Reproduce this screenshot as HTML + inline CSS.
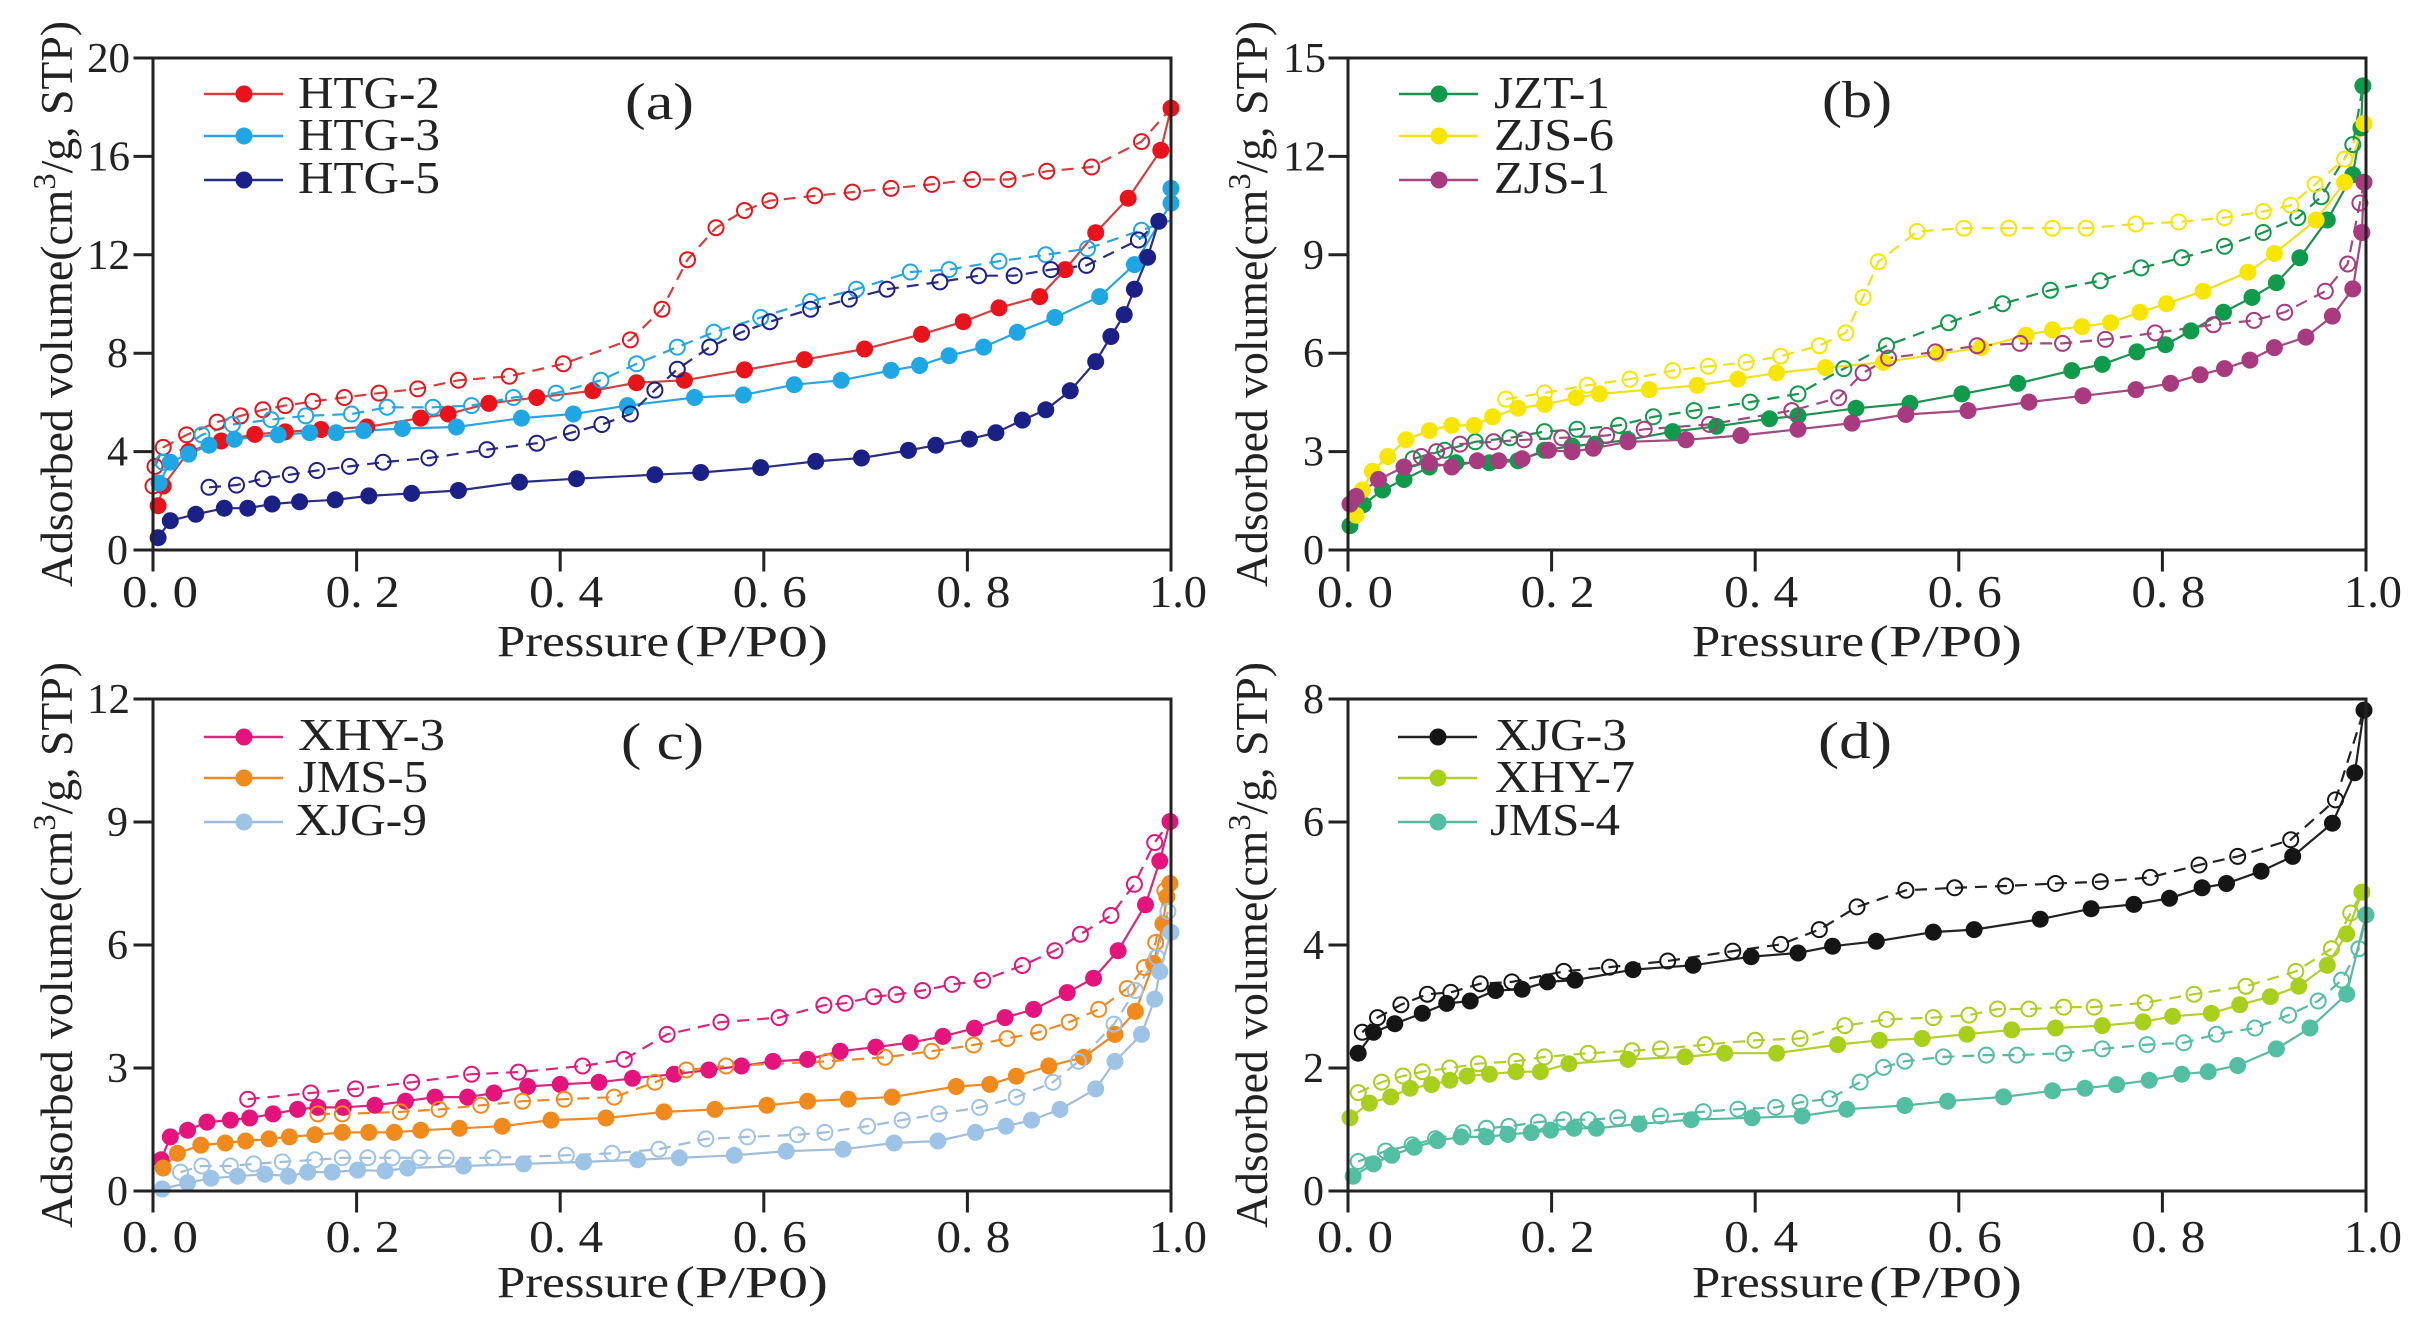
<!DOCTYPE html>
<html><head><meta charset="utf-8">
<style>
html,body{margin:0;padding:0;background:#fff;}
svg{display:block;}
text{font-family:"Liberation Serif","Times New Roman",Times,serif;fill:#222;}
</style></head>
<body>
<svg id="s" xmlns="http://www.w3.org/2000/svg" width="2415" height="1317" viewBox="0 0 2415 1317">
<rect x="0" y="0" width="2415" height="1317" fill="#fff"/>
<g id="data"></g>
<g stroke="#222" stroke-width="3" fill="none" stroke-linecap="square">
  <rect x="153" y="58" width="1018" height="492"/>
  <path d="M153 550V570 M356.6 550V570 M560.2 550V570 M763.8 550V570 M967.4 550V570 M1171 550V570"/>
  <path d="M135 550H153 M135 451.6H153 M135 353.2H153 M135 254.8H153 M135 156.4H153 M135 58H153"/>
  <rect x="1348" y="58" width="1018" height="492"/>
  <path d="M1348 550V570 M1551.6 550V570 M1755.2 550V570 M1958.8 550V570 M2162.4 550V570 M2366 550V570"/>
  <path d="M1330 550H1348 M1330 451.6H1348 M1330 353.2H1348 M1330 254.8H1348 M1330 156.4H1348 M1330 58H1348"/>
  <rect x="153" y="699" width="1018" height="492"/>
  <path d="M153 1191V1211 M356.6 1191V1211 M560.2 1191V1211 M763.8 1191V1211 M967.4 1191V1211 M1171 1191V1211"/>
  <path d="M135 1191H153 M135 1068H153 M135 945H153 M135 822H153 M135 699H153"/>
  <rect x="1348" y="699" width="1018" height="492"/>
  <path d="M1348 1191V1211 M1551.6 1191V1211 M1755.2 1191V1211 M1958.8 1191V1211 M2162.4 1191V1211 M2366 1191V1211"/>
  <path d="M1330 1191H1348 M1330 1068H1348 M1330 945H1348 M1330 822H1348 M1330 699H1348"/>
</g>

<g font-size="42" text-anchor="end">
  <text x="128" y="564">0</text><text x="128" y="465.6">4</text><text x="128" y="367.2">8</text>
  <text x="130" y="268.8" textLength="43" lengthAdjust="spacingAndGlyphs">12</text>
  <text x="130" y="170.4" textLength="43" lengthAdjust="spacingAndGlyphs">16</text>
  <text x="130" y="72" textLength="43" lengthAdjust="spacingAndGlyphs">20</text>

  <text x="1324" y="564">0</text><text x="1324" y="465.6">3</text><text x="1324" y="367.2">6</text>
  <text x="1324" y="268.8">9</text>
  <text x="1326" y="170.4" textLength="43" lengthAdjust="spacingAndGlyphs">12</text>
  <text x="1326" y="72" textLength="43" lengthAdjust="spacingAndGlyphs">15</text>

  <text x="128" y="1205">0</text><text x="128" y="1082">3</text><text x="128" y="959">6</text>
  <text x="128" y="836">9</text>
  <text x="130" y="713" textLength="43" lengthAdjust="spacingAndGlyphs">12</text>

  <text x="1324" y="1205">0</text><text x="1324" y="1082">2</text><text x="1324" y="959">4</text>
  <text x="1324" y="836">6</text><text x="1324" y="713">8</text>
</g>

<g font-size="46" text-anchor="middle">
  <text x="160" y="607" textLength="76" lengthAdjust="spacingAndGlyphs">0. 0</text>
  <text x="362.6" y="607" textLength="74" lengthAdjust="spacingAndGlyphs">0. 2</text>
  <text x="566.2" y="607" textLength="74" lengthAdjust="spacingAndGlyphs">0. 4</text>
  <text x="769.8" y="607" textLength="74" lengthAdjust="spacingAndGlyphs">0. 6</text>
  <text x="973.4" y="607" textLength="74" lengthAdjust="spacingAndGlyphs">0. 8</text>
  <text x="1178" y="607" textLength="58" lengthAdjust="spacingAndGlyphs">1.0</text>

  <text x="1355" y="607" textLength="76" lengthAdjust="spacingAndGlyphs">0. 0</text>
  <text x="1557.6" y="607" textLength="74" lengthAdjust="spacingAndGlyphs">0. 2</text>
  <text x="1761.2" y="607" textLength="74" lengthAdjust="spacingAndGlyphs">0. 4</text>
  <text x="1964.8" y="607" textLength="74" lengthAdjust="spacingAndGlyphs">0. 6</text>
  <text x="2168.4" y="607" textLength="74" lengthAdjust="spacingAndGlyphs">0. 8</text>
  <text x="2373" y="607" textLength="58" lengthAdjust="spacingAndGlyphs">1.0</text>

  <text x="160" y="1252" textLength="76" lengthAdjust="spacingAndGlyphs">0. 0</text>
  <text x="362.6" y="1252" textLength="74" lengthAdjust="spacingAndGlyphs">0. 2</text>
  <text x="566.2" y="1252" textLength="74" lengthAdjust="spacingAndGlyphs">0. 4</text>
  <text x="769.8" y="1252" textLength="74" lengthAdjust="spacingAndGlyphs">0. 6</text>
  <text x="973.4" y="1252" textLength="74" lengthAdjust="spacingAndGlyphs">0. 8</text>
  <text x="1178" y="1252" textLength="58" lengthAdjust="spacingAndGlyphs">1.0</text>

  <text x="1355" y="1252" textLength="76" lengthAdjust="spacingAndGlyphs">0. 0</text>
  <text x="1557.6" y="1252" textLength="74" lengthAdjust="spacingAndGlyphs">0. 2</text>
  <text x="1761.2" y="1252" textLength="74" lengthAdjust="spacingAndGlyphs">0. 4</text>
  <text x="1964.8" y="1252" textLength="74" lengthAdjust="spacingAndGlyphs">0. 6</text>
  <text x="2168.4" y="1252" textLength="74" lengthAdjust="spacingAndGlyphs">0. 8</text>
  <text x="2373" y="1252" textLength="58" lengthAdjust="spacingAndGlyphs">1.0</text>
</g>

<g font-size="44">
  <text x="497" y="656" textLength="172" lengthAdjust="spacingAndGlyphs">Pressure</text>
  <text x="675" y="656" textLength="153" lengthAdjust="spacingAndGlyphs">(P/P0)</text>
  <text x="1692" y="656" textLength="172" lengthAdjust="spacingAndGlyphs">Pressure</text>
  <text x="1869" y="656" textLength="153" lengthAdjust="spacingAndGlyphs">(P/P0)</text>
  <text x="497" y="1297" textLength="172" lengthAdjust="spacingAndGlyphs">Pressure</text>
  <text x="675" y="1297" textLength="153" lengthAdjust="spacingAndGlyphs">(P/P0)</text>
  <text x="1692" y="1297" textLength="172" lengthAdjust="spacingAndGlyphs">Pressure</text>
  <text x="1869" y="1297" textLength="153" lengthAdjust="spacingAndGlyphs">(P/P0)</text>
</g>

<g font-size="45" text-anchor="middle">
  <text transform="translate(72,304) rotate(-90)" textLength="566" lengthAdjust="spacingAndGlyphs">Adsorbed volume(cm<tspan font-size="32" dy="-17">3</tspan><tspan dy="17">/g, STP)</tspan></text>
  <text transform="translate(1267,304) rotate(-90)" textLength="566" lengthAdjust="spacingAndGlyphs">Adsorbed volume(cm<tspan font-size="32" dy="-17">3</tspan><tspan dy="17">/g, STP)</tspan></text>
  <text transform="translate(72,945) rotate(-90)" textLength="566" lengthAdjust="spacingAndGlyphs">Adsorbed volume(cm<tspan font-size="32" dy="-17">3</tspan><tspan dy="17">/g, STP)</tspan></text>
  <text transform="translate(1267,945) rotate(-90)" textLength="566" lengthAdjust="spacingAndGlyphs">Adsorbed volume(cm<tspan font-size="32" dy="-17">3</tspan><tspan dy="17">/g, STP)</tspan></text>
</g>

<g font-size="52">
  <text x="625" y="119" textLength="69" lengthAdjust="spacingAndGlyphs">(a)</text>
  <text x="1822" y="117" textLength="70" lengthAdjust="spacingAndGlyphs">(b)</text>
  <text x="621" y="759" textLength="83" lengthAdjust="spacingAndGlyphs">( c)</text>
  <text x="1818" y="758" textLength="74" lengthAdjust="spacingAndGlyphs">(d)</text>
</g>

<g stroke-width="2.5">
  <line x1="204" y1="94" x2="283" y2="94" stroke="#d2403f"/><circle cx="244" cy="94" r="8.5" fill="#e8131b"/>
  <line x1="204" y1="136" x2="283" y2="136" stroke="#2aa5e0"/><circle cx="244" cy="136" r="8.5" fill="#1ea7e4"/>
  <line x1="204" y1="180" x2="283" y2="180" stroke="#2a2d80"/><circle cx="244" cy="180" r="8.5" fill="#1b2086"/>

  <line x1="1399" y1="94" x2="1478" y2="94" stroke="#1e9050"/><circle cx="1439" cy="94" r="8.5" fill="#109a4c"/>
  <line x1="1399" y1="136" x2="1478" y2="136" stroke="#f0e020"/><circle cx="1439" cy="136" r="8.5" fill="#f7e600"/>
  <line x1="1399" y1="180" x2="1478" y2="180" stroke="#a04a80"/><circle cx="1439" cy="180" r="8.5" fill="#a83a80"/>

  <line x1="204" y1="737" x2="283" y2="737" stroke="#d8287a"/><circle cx="244" cy="737" r="8.5" fill="#e4147c"/>
  <line x1="204" y1="778" x2="283" y2="778" stroke="#ec8a28"/><circle cx="244" cy="778" r="8.5" fill="#f08a1c"/>
  <line x1="204" y1="822" x2="283" y2="822" stroke="#a0bcd8"/><circle cx="244" cy="822" r="8.5" fill="#9dc3e6"/>

  <line x1="1398" y1="737" x2="1477" y2="737" stroke="#222"/><circle cx="1438" cy="737" r="8.5" fill="#151515"/>
  <line x1="1398" y1="778" x2="1477" y2="778" stroke="#b0d030"/><circle cx="1438" cy="778" r="8.5" fill="#a9cf1d"/>
  <line x1="1398" y1="822" x2="1477" y2="822" stroke="#5ab8a0"/><circle cx="1438" cy="822" r="8.5" fill="#52bfa3"/>
</g>
<g font-size="46">
  <text x="298" y="108" textLength="142" lengthAdjust="spacingAndGlyphs">HTG-2</text>
  <text x="298" y="150" textLength="142" lengthAdjust="spacingAndGlyphs">HTG-3</text>
  <text x="298" y="193" textLength="142" lengthAdjust="spacingAndGlyphs">HTG-5</text>

  <text x="1494" y="108" textLength="116" lengthAdjust="spacingAndGlyphs">JZT-1</text>
  <text x="1494" y="150" textLength="120" lengthAdjust="spacingAndGlyphs">ZJS-6</text>
  <text x="1494" y="193" textLength="116" lengthAdjust="spacingAndGlyphs">ZJS-1</text>

  <text x="298" y="750" textLength="147" lengthAdjust="spacingAndGlyphs">XHY-3</text>
  <text x="298" y="792" textLength="130" lengthAdjust="spacingAndGlyphs">JMS-5</text>
  <text x="295" y="835" textLength="132" lengthAdjust="spacingAndGlyphs">XJG-9</text>

  <text x="1495" y="750" textLength="132" lengthAdjust="spacingAndGlyphs">XJG-3</text>
  <text x="1495" y="792" textLength="140" lengthAdjust="spacingAndGlyphs">XHY-7</text>
  <text x="1490" y="835" textLength="130" lengthAdjust="spacingAndGlyphs">JMS-4</text>
</g>
</svg>

<script>
(function(){
var NS="http://www.w3.org/2000/svg";
var g=document.getElementById("data");
function el(n,a){var e=document.createElementNS(NS,n);for(var k in a)e.setAttribute(k,a[k]);g.appendChild(e);return e;}
var panels=[
{l:153,r:1171,t:58,b:550,ymax:20,s:[
 {c:"#e8131b",lc:"#d2403f",
  a:[[0.005,1.8],[0.01,2.6],[0.035,4.0],[0.067,4.43],[0.1,4.7],[0.13,4.8],[0.165,4.9],[0.21,5.0],[0.263,5.36],[0.29,5.53],[0.33,5.96],[0.377,6.2],[0.432,6.47],[0.475,6.8],[0.522,6.9],[0.581,7.32],[0.64,7.74],[0.699,8.17],[0.755,8.77],[0.796,9.28],[0.831,9.84],[0.871,10.3],[0.896,11.4],[0.926,12.9],[0.958,14.3],[0.99,16.25],[1.0,17.96]],
  d:[[0,2.6],[0.002,3.4],[0.01,4.17],[0.033,4.68],[0.063,5.2],[0.086,5.45],[0.108,5.7],[0.13,5.87],[0.157,6.04],[0.188,6.2],[0.222,6.38],[0.26,6.55],[0.3,6.9],[0.35,7.06],[0.403,7.57],[0.469,8.54],[0.5,9.79],[0.525,11.8],[0.553,13.1],[0.581,13.8],[0.606,14.2],[0.65,14.4],[0.687,14.55],[0.725,14.7],[0.765,14.86],[0.805,15.06],[0.84,15.06],[0.878,15.4],[0.922,15.57],[0.971,16.6],[1.0,17.96]]},
 {c:"#1ea7e4",lc:"#2aa5e0",
  a:[[0.006,2.72],[0.017,3.57],[0.035,3.9],[0.055,4.26],[0.08,4.5],[0.123,4.68],[0.154,4.77],[0.18,4.77],[0.207,4.85],[0.245,4.94],[0.298,5.0],[0.362,5.36],[0.413,5.53],[0.466,5.87],[0.532,6.2],[0.58,6.3],[0.63,6.72],[0.676,6.9],[0.725,7.3],[0.753,7.5],[0.782,7.9],[0.816,8.25],[0.849,8.85],[0.886,9.45],[0.93,10.3],[0.964,11.6],[1.0,14.1],[1.0,14.7]],
  d:[[0.01,3.57],[0.048,4.68],[0.078,5.1],[0.116,5.3],[0.15,5.45],[0.195,5.53],[0.23,5.8],[0.275,5.8],[0.313,5.87],[0.354,6.2],[0.396,6.38],[0.44,6.9],[0.475,7.57],[0.515,8.25],[0.551,8.85],[0.597,9.45],[0.646,10.1],[0.691,10.6],[0.744,11.3],[0.782,11.4],[0.831,11.74],[0.877,12.0],[0.918,12.25],[0.971,13.0],[1.0,13.4]]},
 {c:"#1b2086",lc:"#2a2d80",
  a:[[0.005,0.5],[0.017,1.19],[0.042,1.45],[0.07,1.7],[0.093,1.7],[0.117,1.87],[0.144,1.96],[0.179,2.04],[0.212,2.2],[0.254,2.3],[0.3,2.42],[0.36,2.76],[0.416,2.9],[0.493,3.06],[0.538,3.15],[0.597,3.35],[0.651,3.6],[0.696,3.74],[0.742,4.05],[0.769,4.26],[0.802,4.51],[0.828,4.77],[0.854,5.28],[0.877,5.7],[0.901,6.47],[0.926,7.66],[0.941,8.68],[0.954,9.57],[0.964,10.6],[0.977,11.9],[0.988,13.36]],
  d:[[0.055,2.55],[0.082,2.64],[0.108,2.9],[0.135,3.06],[0.161,3.23],[0.193,3.4],[0.226,3.57],[0.271,3.74],[0.328,4.08],[0.377,4.34],[0.411,4.77],[0.441,5.1],[0.469,5.53],[0.493,6.5],[0.515,7.35],[0.547,8.25],[0.578,8.85],[0.606,9.28],[0.646,9.79],[0.684,10.2],[0.721,10.6],[0.773,10.9],[0.811,11.15],[0.846,11.15],[0.882,11.4],[0.917,11.57],[0.968,12.6],[0.988,13.36]]}
]},
{l:1348,r:2366,t:58,b:550,ymax:15,s:[
 {c:"#109a4c",lc:"#1e9050",
  a:[[0.002,0.74],[0.015,1.38],[0.034,1.83],[0.055,2.15],[0.08,2.53],[0.106,2.66],[0.139,2.66],[0.167,2.72],[0.193,3.04],[0.22,3.17],[0.243,3.23],[0.275,3.36],[0.319,3.61],[0.362,3.77],[0.414,4.0],[0.442,4.09],[0.499,4.32],[0.552,4.47],[0.603,4.76],[0.658,5.08],[0.711,5.47],[0.741,5.66],[0.775,6.04],[0.803,6.26],[0.828,6.68],[0.86,7.25],[0.888,7.7],[0.912,8.15],[0.935,8.91],[0.962,10.06],[0.987,11.44],[0.995,12.87],[0.997,14.15]],
  d:[[0.064,2.78],[0.095,3.04],[0.125,3.3],[0.159,3.42],[0.193,3.61],[0.225,3.68],[0.266,3.8],[0.3,4.06],[0.34,4.25],[0.395,4.51],[0.442,4.76],[0.487,5.53],[0.529,6.23],[0.59,6.93],[0.643,7.51],[0.69,7.92],[0.739,8.21],[0.779,8.6],[0.819,8.91],[0.861,9.26],[0.899,9.68],[0.933,10.13],[0.956,10.77],[0.987,12.36],[0.997,14.15]]},
 {c:"#f7e600",lc:"#f0e020",
  a:[[0.008,1.06],[0.014,1.83],[0.024,2.4],[0.039,2.85],[0.057,3.36],[0.08,3.64],[0.102,3.8],[0.124,3.8],[0.142,4.06],[0.167,4.32],[0.193,4.44],[0.224,4.64],[0.247,4.76],[0.296,4.89],[0.343,5.02],[0.383,5.21],[0.421,5.4],[0.469,5.56],[0.526,5.72],[0.58,5.98],[0.622,6.17],[0.666,6.55],[0.692,6.71],[0.721,6.81],[0.749,6.93],[0.778,7.25],[0.804,7.51],[0.84,7.89],[0.884,8.47],[0.91,9.04],[0.951,10.06],[0.979,11.21],[0.998,13.0]],
  d:[[0.155,4.6],[0.193,4.79],[0.235,5.02],[0.277,5.21],[0.319,5.47],[0.354,5.6],[0.391,5.72],[0.425,5.91],[0.463,6.23],[0.489,6.62],[0.506,7.7],[0.521,8.79],[0.559,9.71],[0.605,9.81],[0.649,9.81],[0.692,9.81],[0.725,9.81],[0.774,9.94],[0.816,10.0],[0.861,10.13],[0.899,10.32],[0.926,10.51],[0.95,11.15],[0.979,11.92],[0.998,13.0]]},
 {c:"#a83a80",lc:"#a04a80",
  a:[[0.002,1.4],[0.008,1.63],[0.03,2.15],[0.055,2.53],[0.08,2.66],[0.102,2.53],[0.127,2.72],[0.148,2.72],[0.171,2.78],[0.197,3.04],[0.22,3.0],[0.241,3.1],[0.275,3.3],[0.332,3.36],[0.386,3.49],[0.442,3.68],[0.495,3.87],[0.548,4.13],[0.609,4.25],[0.669,4.51],[0.722,4.7],[0.774,4.89],[0.808,5.08],[0.837,5.34],[0.861,5.53],[0.886,5.79],[0.91,6.17],[0.941,6.49],[0.967,7.13],[0.987,7.96],[0.996,9.68],[0.998,11.21]],
  d:[[0.072,2.85],[0.087,3.0],[0.11,3.23],[0.143,3.3],[0.173,3.36],[0.21,3.42],[0.254,3.49],[0.291,3.68],[0.355,3.83],[0.436,4.25],[0.482,4.64],[0.506,5.4],[0.531,5.85],[0.577,6.04],[0.618,6.23],[0.66,6.3],[0.702,6.3],[0.744,6.42],[0.793,6.62],[0.85,6.87],[0.89,7.0],[0.92,7.25],[0.96,7.89],[0.982,8.72],[0.994,10.58],[0.998,11.21]]}
]},
{l:153,r:1171,t:699,b:1191,ymax:12,s:[
 {c:"#e4147c",lc:"#d8287a",
  a:[[0.008,0.76],[0.017,1.32],[0.034,1.48],[0.053,1.68],[0.076,1.73],[0.095,1.78],[0.118,1.88],[0.142,1.99],[0.162,2.04],[0.187,2.04],[0.218,2.09],[0.248,2.19],[0.277,2.29],[0.309,2.29],[0.335,2.39],[0.368,2.55],[0.4,2.6],[0.438,2.65],[0.471,2.75],[0.512,2.85],[0.546,2.95],[0.578,3.05],[0.609,3.16],[0.643,3.21],[0.675,3.41],[0.71,3.51],[0.744,3.62],[0.776,3.77],[0.807,3.97],[0.837,4.23],[0.865,4.43],[0.898,4.84],[0.924,5.19],[0.948,5.86],[0.975,6.98],[0.989,8.05],[0.999,9.01]],
  d:[[0.093,2.24],[0.155,2.39],[0.199,2.49],[0.254,2.65],[0.313,2.85],[0.359,2.9],[0.422,3.05],[0.463,3.21],[0.505,3.82],[0.558,4.12],[0.615,4.23],[0.659,4.53],[0.68,4.58],[0.708,4.74],[0.73,4.79],[0.756,4.89],[0.785,5.04],[0.815,5.14],[0.854,5.5],[0.886,5.86],[0.911,6.26],[0.941,6.72],[0.964,7.48],[0.984,8.5],[0.999,9.01]]},
 {c:"#f08a1c",lc:"#ec8a28",
  a:[[0.01,0.56],[0.024,0.92],[0.047,1.12],[0.071,1.17],[0.091,1.22],[0.114,1.27],[0.134,1.32],[0.159,1.37],[0.186,1.43],[0.212,1.43],[0.237,1.43],[0.263,1.48],[0.301,1.53],[0.343,1.58],[0.391,1.73],[0.445,1.78],[0.502,1.93],[0.552,1.99],[0.603,2.09],[0.643,2.19],[0.683,2.24],[0.726,2.29],[0.789,2.55],[0.822,2.6],[0.848,2.8],[0.88,3.05],[0.914,3.26],[0.945,3.82],[0.965,4.38],[0.983,5.55],[0.992,6.52],[0.996,7.18],[0.999,7.5]],
  d:[[0.162,1.88],[0.186,1.88],[0.243,1.93],[0.281,1.99],[0.322,2.09],[0.363,2.19],[0.404,2.24],[0.453,2.29],[0.493,2.65],[0.524,2.95],[0.563,3.05],[0.662,3.16],[0.719,3.26],[0.765,3.41],[0.806,3.56],[0.839,3.72],[0.87,3.87],[0.9,4.12],[0.929,4.43],[0.957,4.94],[0.974,5.45],[0.985,6.06],[0.994,7.33],[0.999,7.5]]},
 {c:"#9dc3e6",lc:"#a0bcd8",
  a:[[0.009,0.05],[0.034,0.2],[0.057,0.31],[0.083,0.36],[0.11,0.41],[0.133,0.36],[0.152,0.46],[0.176,0.46],[0.201,0.51],[0.228,0.49],[0.25,0.56],[0.305,0.61],[0.364,0.66],[0.423,0.71],[0.476,0.76],[0.517,0.81],[0.571,0.87],[0.622,0.97],[0.678,1.02],[0.728,1.17],[0.771,1.22],[0.808,1.43],[0.838,1.58],[0.863,1.73],[0.891,1.99],[0.926,2.49],[0.945,3.16],[0.971,3.82],[0.984,4.68],[0.989,5.35],[1.0,6.31]],
  d:[[0.027,0.46],[0.048,0.61],[0.076,0.61],[0.099,0.66],[0.127,0.71],[0.159,0.76],[0.186,0.81],[0.211,0.81],[0.235,0.81],[0.262,0.81],[0.288,0.81],[0.334,0.81],[0.406,0.87],[0.451,0.92],[0.497,1.02],[0.543,1.27],[0.584,1.32],[0.633,1.37],[0.66,1.43],[0.702,1.58],[0.736,1.73],[0.772,1.88],[0.812,2.04],[0.848,2.29],[0.884,2.65],[0.909,3.16],[0.944,4.07],[0.965,4.89],[0.986,5.7],[0.997,6.82],[1.0,7.5]]}
]},
{l:1348,r:2366,t:699,b:1191,ymax:8,s:[
 {c:"#151515",lc:"#222",
  a:[[0.01,2.24],[0.025,2.58],[0.046,2.72],[0.073,2.89],[0.097,3.05],[0.12,3.09],[0.145,3.26],[0.171,3.28],[0.196,3.4],[0.223,3.43],[0.28,3.6],[0.339,3.67],[0.396,3.81],[0.442,3.87],[0.476,3.98],[0.519,4.06],[0.575,4.21],[0.615,4.25],[0.68,4.42],[0.73,4.59],[0.772,4.66],[0.807,4.76],[0.839,4.93],[0.863,5.0],[0.897,5.2],[0.928,5.44],[0.967,5.98],[0.989,6.8],[0.998,7.82]],
  d:[[0.014,2.58],[0.029,2.82],[0.052,3.03],[0.078,3.2],[0.101,3.23],[0.13,3.37],[0.161,3.4],[0.212,3.57],[0.257,3.64],[0.314,3.74],[0.378,3.9],[0.425,4.01],[0.463,4.25],[0.5,4.62],[0.548,4.89],[0.596,4.93],[0.646,4.96],[0.695,5.0],[0.739,5.03],[0.788,5.1],[0.836,5.3],[0.874,5.44],[0.926,5.71],[0.97,6.36],[0.998,7.82]]},
 {c:"#a9cf1d",lc:"#b0d030",
  a:[[0.002,1.19],[0.021,1.43],[0.042,1.53],[0.061,1.67],[0.082,1.73],[0.1,1.8],[0.117,1.87],[0.139,1.9],[0.165,1.94],[0.189,1.94],[0.217,2.07],[0.275,2.14],[0.331,2.18],[0.37,2.24],[0.421,2.24],[0.481,2.38],[0.522,2.45],[0.564,2.48],[0.608,2.55],[0.652,2.62],[0.695,2.65],[0.741,2.69],[0.781,2.75],[0.81,2.84],[0.848,2.89],[0.876,3.03],[0.906,3.16],[0.934,3.33],[0.962,3.67],[0.981,4.18],[0.996,4.86]],
  d:[[0.01,1.6],[0.033,1.77],[0.054,1.87],[0.073,1.94],[0.1,2.0],[0.128,2.07],[0.165,2.11],[0.193,2.18],[0.236,2.24],[0.279,2.28],[0.307,2.31],[0.351,2.38],[0.4,2.45],[0.444,2.48],[0.488,2.69],[0.529,2.79],[0.575,2.82],[0.61,2.86],[0.638,2.96],[0.669,2.96],[0.703,2.99],[0.733,2.99],[0.783,3.06],[0.831,3.2],[0.882,3.33],[0.931,3.57],[0.966,3.94],[0.985,4.52],[0.996,4.86]]},
 {c:"#52bfa3",lc:"#5ab8a0",
  a:[[0.005,0.24],[0.025,0.44],[0.043,0.58],[0.065,0.71],[0.088,0.82],[0.111,0.88],[0.136,0.88],[0.157,0.92],[0.18,0.95],[0.199,0.99],[0.222,1.02],[0.244,1.02],[0.286,1.09],[0.337,1.16],[0.397,1.19],[0.446,1.22],[0.49,1.33],[0.547,1.39],[0.589,1.46],[0.644,1.53],[0.692,1.63],[0.724,1.67],[0.755,1.73],[0.787,1.8],[0.819,1.9],[0.845,1.94],[0.874,2.04],[0.912,2.31],[0.945,2.65],[0.981,3.2],[1.0,4.49]],
  d:[[0.01,0.48],[0.037,0.65],[0.063,0.75],[0.086,0.85],[0.113,0.95],[0.136,1.02],[0.158,1.05],[0.187,1.12],[0.212,1.16],[0.236,1.16],[0.265,1.19],[0.307,1.22],[0.349,1.29],[0.383,1.33],[0.42,1.36],[0.444,1.44],[0.473,1.5],[0.503,1.77],[0.526,2.01],[0.547,2.11],[0.585,2.18],[0.627,2.21],[0.657,2.21],[0.703,2.24],[0.741,2.31],[0.785,2.38],[0.821,2.41],[0.853,2.55],[0.891,2.65],[0.924,2.86],[0.953,3.09],[0.976,3.43],[0.993,3.94],[1.0,4.49]]}
]}
];
panels.forEach(function(p){
  var W=p.r-p.l,H=p.b-p.t;
  function X(x){return (p.l+x*W).toFixed(1);}
  function Y(y){return (p.b-y/p.ymax*H).toFixed(1);}
  function pts(arr){return arr.map(function(q){return X(q[0])+","+Y(q[1]);}).join(" ");}
  p.s.forEach(function(s){
    el("polyline",{points:pts(s.d),fill:"none",stroke:s.lc,"stroke-width":2.2,"stroke-dasharray":"12 8"});
    el("polyline",{points:pts(s.a),fill:"none",stroke:s.lc,"stroke-width":2.2});
  });
  p.s.forEach(function(s){
    s.d.forEach(function(q,i){
      if(i==s.d.length-1)return;
      el("circle",{cx:X(q[0]),cy:Y(q[1]),r:7.5,fill:"none",stroke:s.c,"stroke-width":2});
    });
    s.a.forEach(function(q){
      el("circle",{cx:X(q[0]),cy:Y(q[1]),r:8.5,fill:s.c});
    });
  });
});
})();
</script>
</body></html>
